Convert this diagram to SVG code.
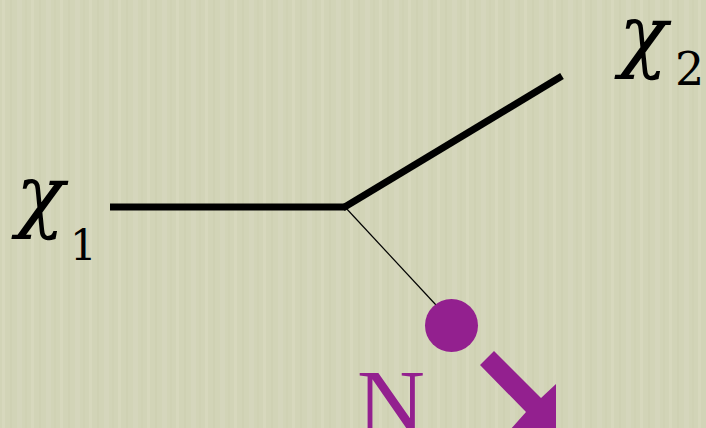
<svg xmlns="http://www.w3.org/2000/svg" width="706" height="428" viewBox="0 0 706 428">
  <defs>
    <pattern id="tex" width="29" height="428" patternUnits="userSpaceOnUse">
      <rect x="2" y="0" width="3" height="428" fill="#dedfc9" opacity="0.35"/>
      <rect x="10" y="0" width="2" height="428" fill="#c6c8a8" opacity="0.25"/>
      <rect x="17" y="0" width="5" height="428" fill="#dcddc7" opacity="0.3"/>
      <rect x="25" y="0" width="2" height="428" fill="#c8caab" opacity="0.2"/>
    </pattern>
    <style>
      .lbl { font-family: "DejaVu Serif", "Liberation Serif", serif; fill: #000; }
      .chi { font-style: italic; }
      .thick { stroke: #000; stroke-width: 7; fill: none; }
      .thin { stroke: #000; stroke-width: 1.2; fill: none; }
      .purple { fill: #93208f; }
    </style>
  </defs>
  <rect width="706" height="428" fill="#d2d4b7"/>
  <rect width="706" height="428" fill="url(#tex)"/>

  <g id="connectors">
    <line class="thick" x1="110" y1="207" x2="345" y2="207"/>
    <line class="thick" x1="343" y1="208" x2="562" y2="76"/>
    <line class="thin" x1="345" y1="207" x2="436" y2="305"/>
  </g>

  <g id="chi1">
    <text class="lbl chi" x="16" y="222" font-size="80">χ</text>
    <text class="lbl" x="70" y="260" font-size="42" font-family="Liberation Serif, serif">1</text>
  </g>

  <g id="chi2">
    <text class="lbl chi" x="619" y="62" font-size="80">χ</text>
    <text class="lbl" x="675" y="85" font-size="46" font-family="Liberation Serif, serif">2</text>
  </g>

  <g id="N">
    <circle class="purple" cx="451.5" cy="325.5" r="26.5"/>
    <polygon class="purple" points="480,365 494,351 541,398 556,384 556,430 510,430 526,412"/>
    <text x="357" y="434" font-size="94" font-family="Liberation Serif, serif" fill="#93208f">N</text>
  </g>
</svg>
